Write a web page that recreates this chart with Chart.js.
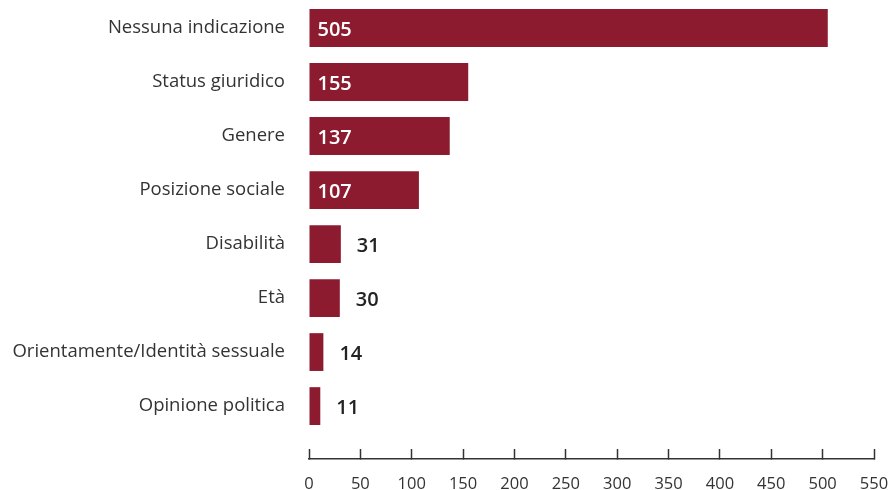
<!DOCTYPE html>
<html>
<head>
<meta charset="utf-8">
<script src="https://cdn.jsdelivr.net/npm/chart.js@4/dist/chart.umd.min.js"></script>
<style>
  html, body { margin: 0; padding: 0; background: #fff; }
  #wrap { width: 889px; height: 490px; position: relative; }
</style>
</head>
<body>
<div id="wrap"><canvas id="chart"></canvas></div>
<script>
// dati
const categories = [
  "Nessuna indicazione",
  "Status giuridico",
  "Genere",
  "Posizione sociale",
  "Disabilità",
  "Età",
  "Orientamente/Identità sessuale",
  "Opinione politica",
];
const values = [505, 155, 137, 107, 31, 30, 14, 11];
const xMin = 0;
const xMax = 550;
const xStep = 50;

const FONT = "'Open Sans', 'Noto Sans', sans-serif";
const BAR_COLOR = "#8c1b30";

// etichette dei valori (dentro o fuori dalla barra)
const valueLabels = {
  id: "valueLabels",
  afterDatasetsDraw(chart) {
    const ctx = chart.ctx;
    const meta = chart.getDatasetMeta(0);
    ctx.save();
    ctx.font = "600 20px " + FONT;
    ctx.textBaseline = "middle";
    ctx.textAlign = "left";
    meta.data.forEach((bar, i) => {
      const txt = String(values[i]);
      const w = ctx.measureText(txt).width;
      const barW = bar.x - bar.base;
      if (barW > w + 20) {
        ctx.fillStyle = "#ffffff";
        ctx.fillText(txt, bar.base + 8, bar.y + 2);
      } else {
        ctx.fillStyle = "#222222";
        ctx.fillText(txt, bar.x + 16, bar.y + 2);
      }
    });
    ctx.restore();
  },
};

const ctx = document.getElementById("chart").getContext("2d");
const chart = new Chart(ctx, {
  type: "bar",
  data: {
    labels: categories,
    datasets: [
      {
        data: values,
        backgroundColor: BAR_COLOR,
        borderWidth: 0,
        barPercentage: 0.7,
        categoryPercentage: 1,
      },
    ],
  },
  options: {
    indexAxis: "y",
    responsive: true,
    maintainAspectRatio: false,
    animation: false,
    layout: { padding: { top: 1, right: 0, bottom: 0, left: 0 } },
    plugins: {
      legend: { display: false },
      tooltip: { enabled: false },
    },
    scales: {
      x: {
        min: xMin,
        max: xMax,
        ticks: {
          stepSize: xStep,
          padding: 25,
          color: "#333",
          font: { size: 16.5, family: FONT },
        },
        grid: {
          drawOnChartArea: false,
          tickLength: -10,
          tickWidth: 1.5,
          tickColor: "#333",
        },
        border: { color: "#333", width: 1.5 },
        afterFit(scale) {
          scale.height = 31;
          scale.paddingLeft = 0;
          scale.paddingRight = 15;
        },
      },
      y: {
        ticks: {
          padding: 16,
          color: "#333",
          font: { size: 18.5, family: FONT },
        },
        grid: { display: false },
        border: { display: false },
        afterFit(scale) {
          scale.width = 309;
          scale.paddingTop = 0;
          scale.paddingBottom = 0;
        },
        afterBuildTicks(scale) {
          // spazio extra sotto l'ultima barra
          scale._valueRange = categories.length + 0.48;
        },
      },
    },
  },
  plugins: [valueLabels],
});
</script>
</body>
</html>
